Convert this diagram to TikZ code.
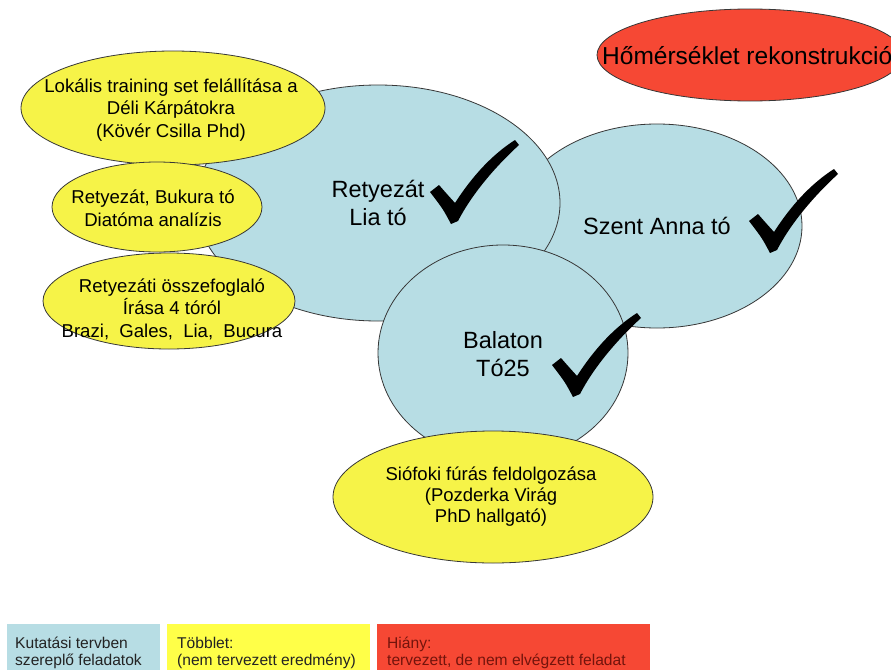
\documentclass[tikz,border=0pt]{standalone}
\usepackage{fontspec}
\setmainfont{Liberation Sans}
\definecolor{lakeblue}{RGB}{183,221,228}
\definecolor{extrayel}{RGB}{246,243,72}
\definecolor{legyel}{RGB}{255,255,72}
\definecolor{lackred}{RGB}{246,72,52}
\definecolor{edgegray}{RGB}{55,55,55}
\definecolor{legtext}{RGB}{35,35,35}
\definecolor{legredtext}{RGB}{115,20,12}
\tikzset{
  lake/.style={fill=lakeblue,draw=edgegray,line width=0.8pt},
  extra/.style={fill=extrayel,draw=edgegray,line width=0.8pt},
  lack/.style={fill=lackred,draw=edgegray,line width=0.8pt},
  laketext/.style={align=center,inner sep=0pt,font=\fontsize{23.5}{28}\selectfont},
  extratext/.style={align=center,inner sep=0pt,font=\fontsize{18.6}{22.5}\selectfont},
  legendtext/.style={align=left,inner sep=0pt,anchor=west,font=\fontsize{15.6}{17}\selectfont},
  tickmark/.pic={
    \fill[black] (-23,-29) -- (-14,-36) .. controls (-7,-28) .. (2,-18)
      .. controls (20,-46) and (40,-67) .. (62,-81) -- (66,-76)
      .. controls (42,-54) and (19,-27) .. (5,0) -- (-2,3)
      .. controls (-10,-12) .. cycle;
  }
}
\begin{document}
\begin{tikzpicture}[x=1pt,y=-1pt]
\useasboundingbox (0,0) rectangle (891,669);
\clip (0,0) rectangle (891,669);
\fill[white] (0,0) rectangle (891,669);

% lakes (research plan tasks)
\path[lake] (657,226) ellipse [x radius=145pt, y radius=102pt];
\path[lake] (378,203) ellipse [x radius=182pt, y radius=118pt];
\path[lake] (503,353) ellipse [x radius=125pt, y radius=108pt];

% extra results
\path[extra] (173,108) ellipse [x radius=152pt, y radius=57pt];
\path[extra] (157,207) ellipse [x radius=105pt, y radius=45pt];
\path[extra] (169,301) ellipse [x radius=126pt, y radius=48pt];
\path[extra] (493,497) ellipse [x radius=160pt, y radius=66pt];

% missing
\path[lack] (750,55) ellipse [x radius=153pt, y radius=46pt];

% texts
\node[laketext] (lia) at (378,203) {Retyezát\\Lia tó};
\node[laketext] (anna) at (657,226) {Szent Anna tó};
\node[laketext] (balaton) at (503,354) {Balaton\\Tó25};

\node[extratext] (lokalis) at (171,110) {Lokális training set felállítása a\\Déli Kárpátokra\\(Kövér Csilla Phd)};
\node[extratext] (bukura) at (153,208) {Retyezát, Bukura tó\\Diatóma analízis};
\node[extratext] (osszefog) at (172,309) {Retyezáti összefoglaló\\Írása 4 tóról\\Brazi,\hspace{5pt} Gales,\hspace{5pt} Lia,\hspace{5pt} Bucura};
\node[extratext,font=\fontsize{18.5}{21}\selectfont] (siofok) at (491,497) {Siófoki fúrás feldolgozása\\(Pozderka Virág\\PhD hallgató)};

\node[inner sep=0pt,anchor=west,font=\fontsize{24.5}{28}\selectfont] (homers) at (602,56) {Hőmérséklet rekonstrukció};

% check marks
\pic at (453,221) {tickmark};
\pic at (772,250) {tickmark};
\pic at (575,394) {tickmark};

% legend
\fill[lakeblue] (7,624) rectangle (160,672);
\fill[legyel] (167,624) rectangle (370,672);
\fill[lackred] (377,624) rectangle (650,672);
\node[legendtext,text=legtext] (legplan) at (15,652.5) {Kutatási tervben\\szereplő feladatok};
\node[legendtext,text=legtext] (legextra) at (177,652.5) {Többlet:\\(nem tervezett eredmény)};
\node[legendtext,text=legredtext] (leglack) at (387,652.5) {Hiány:\\tervezett, de nem elvégzett feladat};
\end{tikzpicture}
\end{document}
